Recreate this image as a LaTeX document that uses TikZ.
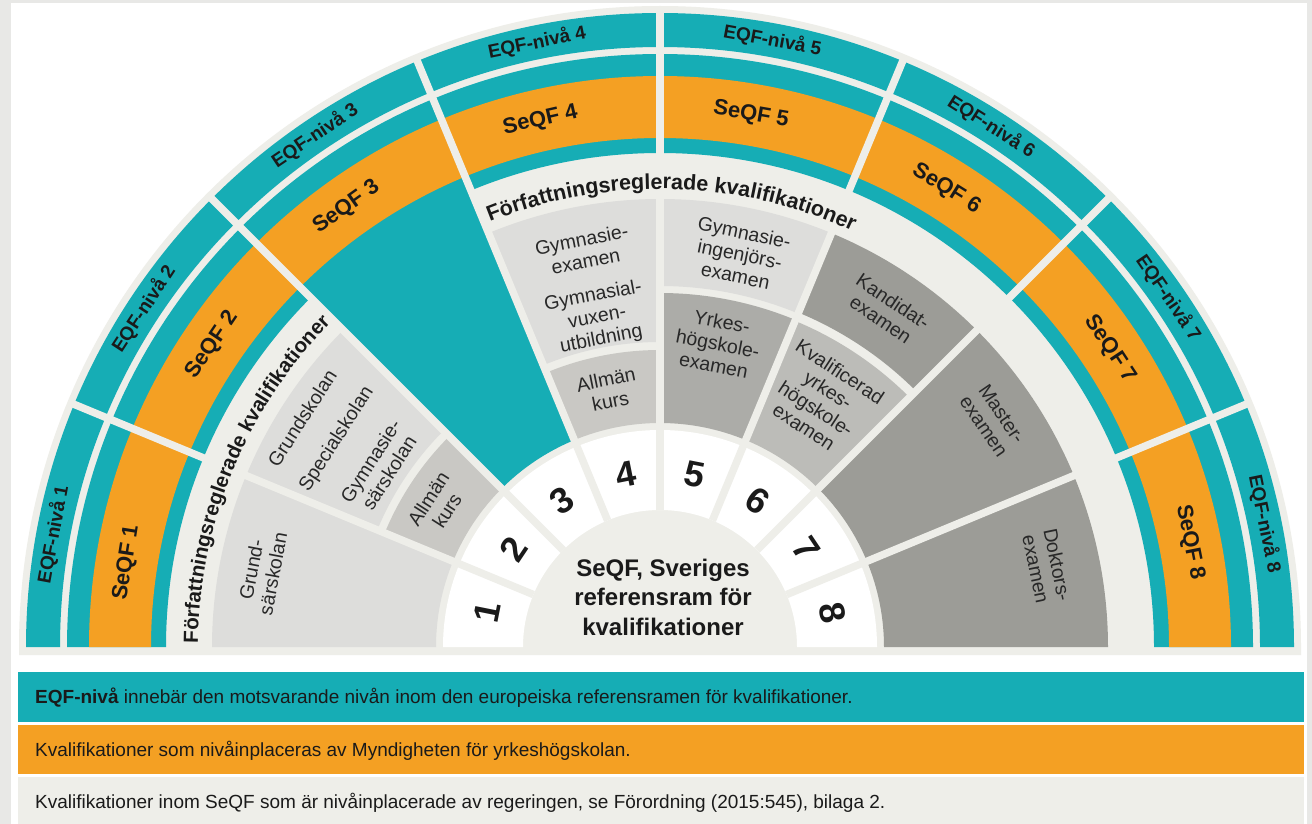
\documentclass[tikz,border=0pt]{standalone}
\usepackage{fontspec}
\setmainfont{Liberation Sans}
\usetikzlibrary{decorations.text}
\definecolor{cteal}{RGB}{22,173,181}
\definecolor{corange}{RGB}{244,160,35}
\definecolor{cdisk}{RGB}{238,238,233}
\definecolor{cframe}{RGB}{232,232,230}
\definecolor{cboxL}{RGB}{221,221,219}
\definecolor{cboxA}{RGB}{201,200,196}
\definecolor{cboxY}{RGB}{172,172,168}
\definecolor{cboxK}{RGB}{188,188,184}
\definecolor{cboxD}{RGB}{156,156,151}
\definecolor{ctext}{RGB}{26,26,26}
\definecolor{cboxtext}{RGB}{40,40,40}
\newcommand{\annsec}[5]{\fill[#1] (#2:#4pt) arc[start angle=#2,end angle=#3,radius=#4pt] -- (#3:#5pt) arc[start angle=#3,end angle=#2,radius=#5pt] -- cycle;}
\newcommand{\titlefontL}{\bfseries\fontsize{20.5}{24}\selectfont}
\newcommand{\titlefontR}{\bfseries\fontsize{21.5}{24}\selectfont}
\tikzset{
  eqf/.style={font=\bfseries\fontsize{19}{22}\selectfont, text=ctext, inner sep=0pt},
  seqf/.style={font=\bfseries\fontsize{22}{26}\selectfont, text=ctext, inner sep=0pt},
  num/.style={font=\bfseries\fontsize{36}{40}\selectfont, text=ctext, inner sep=0pt},
  boxt/.style={font=\fontsize{19.5}{22}\selectfont, text=cboxtext, align=center, inner sep=0pt},
  centert/.style={font=\bfseries\fontsize{24}{29.5}\selectfont, text=ctext, align=center, inner sep=0pt},
  leg/.style={font=\fontsize{19}{22}\selectfont, text=ctext, inner sep=0pt, anchor=base west},
  gap/.style={draw=cdisk, line width=7.5pt}
}
\begin{document}
\begin{tikzpicture}[x=1pt,y=1pt]
\useasboundingbox (0,0) rectangle (1312,-824);
\fill[cframe] (0,0) rectangle (1312,-824);
\fill[white] (11,-3) rectangle (1307,-824);
\begin{scope}[shift={(660,-647)}]
  % disk
  \fill[cdisk] (-641pt,-8pt) -- (-641pt,0pt) arc[start angle=180,end angle=0,radius=641pt] -- (641pt,-8pt) -- cycle;
  % EQF band
  \annsec{cteal}{180}{0}{600}{634}
  % SeQF band
  \annsec{cteal}{180}{0}{494}{593}
  % teal wedge in sector 3 (overlaps band to avoid a seam)
  \annsec{cteal}{135}{112.5}{224}{505}
  \annsec{corange}{180}{0}{509}{571}
  % qualification boxes
  \annsec{cboxL}{180}{157.5}{224}{448}
  \annsec{cboxL}{157.5}{135}{306}{448}
  \annsec{cboxA}{157.5}{135}{224}{298}
  \annsec{cboxL}{112.5}{90}{305}{448}
  \annsec{cboxA}{112.5}{90}{224}{297}
  \annsec{cboxL}{90}{67.5}{361}{448}
  \annsec{cboxY}{90}{67.5}{224}{354}
  \annsec{cboxD}{67.5}{45}{362}{448}
  \annsec{cboxK}{67.5}{45}{224}{353}
  \annsec{cboxD}{45}{22.5}{224}{448}
  \annsec{cboxD}{22.5}{0}{224}{448}
  % number ring
  \annsec{white}{180}{0}{137}{217}
  % radial gaps
  \foreach \a in {22.5,45,...,157.5} {
    \draw[gap] (\a:137pt) -- (\a:638pt);
  }
  % EQF labels
  \foreach \i/\a in {1/169.5,2/146.8,3/124,4/101.5,5/79.5,6/57.5,7/34.5,8/11.5} {
    \node[eqf, rotate=\a-90] (eqf\i) at (\a:617pt) {EQF-nivå \i};
  }
  % SeQF labels
  \foreach \i/\a in {1/171,2/146,3/125.5,4/102.8,5/80.3,6/58,7/33.5,8/11.2} {
    \node[seqf, rotate=\a-90] (seqf\i) at (\a:540pt) {SeQF \i};
  }
  % level numbers
  \foreach \i/\a in {1/168.75,2/146.25,3/123.75,4/101.25,5/78.75,6/56.25,7/33.75,8/11.25} {
    \node[num, rotate=\a-90] (num\i) at (\a:176pt) {\i};
  }
  % box texts
  \node[boxt, rotate=79.3] (t1) at (169.3:405pt) {Grund-\\särskolan};
  \node[boxt, rotate=57.4] (t2) at (147.4:425pt) {Grundskolan};
  \node[boxt, rotate=57.3] (t3) at (147.3:384pt) {Specialskolan};
  \node[boxt, rotate=57.3] (t4) at (147.3:333pt) {Gymnasie-\\särskolan};
  \node[boxt, rotate=57.4] (t5) at (147.4:264pt) {Allmän\\kurs};
  \node[boxt, rotate=10.9] (t6) at (100.9:404pt) {Gymnasie-\\examen};
  \node[boxt, rotate=10.8] (t7) at (100.8:335pt) {Gymnasial-\\vuxen-\\utbildning};
  \node[boxt, rotate=11.4] (t8) at (101.4:262pt) {Allmän\\kurs};
  \node[boxt, rotate=-11.5] (t9) at (78.5:401pt) {Gymnasie-\\ingenjörs-\\examen};
  \node[boxt, rotate=-10.8] (t10) at (79.2:309pt) {Yrkes-\\högskole-\\examen};
  \node[boxt, rotate=-34] (t11) at (56:406pt) {Kandidat-\\examen};
  \node[boxt, rotate=-33.2] (t12) at (56.8:296pt) {Kvalificerad\\yrkes-\\högskole-\\examen};
  \node[boxt, rotate=-55.7] (t13) at (34.3:403pt) {Master-\\examen};
  \node[boxt, rotate=-78.3] (t14) at (11.7:395pt) {Doktors-\\examen};
  % centre text
  \node[centert] (centre) at (3pt,50pt) {SeQF, Sveriges\\referensram för\\kvalifikationer};
  % curved titles
  \path[decorate, decoration={text along path, text={|\titlefontL|Författningsreglerade kvalifikationer}, text align=center, text color=ctext}]
    (180:462pt) arc[start angle=180, end angle=135, radius=462pt];
  \path[decorate, decoration={text along path, text={|\titlefontR|Författningsreglerade kvalifikationer}, text align=center, text color=ctext}]
    (114:458pt) arc[start angle=114, end angle=63, radius=458pt];
\end{scope}
% legend
\fill[cteal] (18,-672) rectangle (1304,-722);
\fill[corange] (18,-725) rectangle (1304,-774);
\fill[cdisk] (18,-777) rectangle (1304,-824);
\node[leg] (leg1) at (35,-703) {\textbf{EQF-nivå} innebär den motsvarande nivån inom den europeiska referensramen för kvalifikationer.};
\node[leg] (leg2) at (35,-756) {Kvalifikationer som nivåinplaceras av Myndigheten för yrkeshögskolan.};
\node[leg] (leg3) at (35,-808) {Kvalifikationer inom SeQF som är nivåinplacerade av regeringen, se Förordning (2015:545), bilaga 2.};
\end{tikzpicture}
\end{document}
